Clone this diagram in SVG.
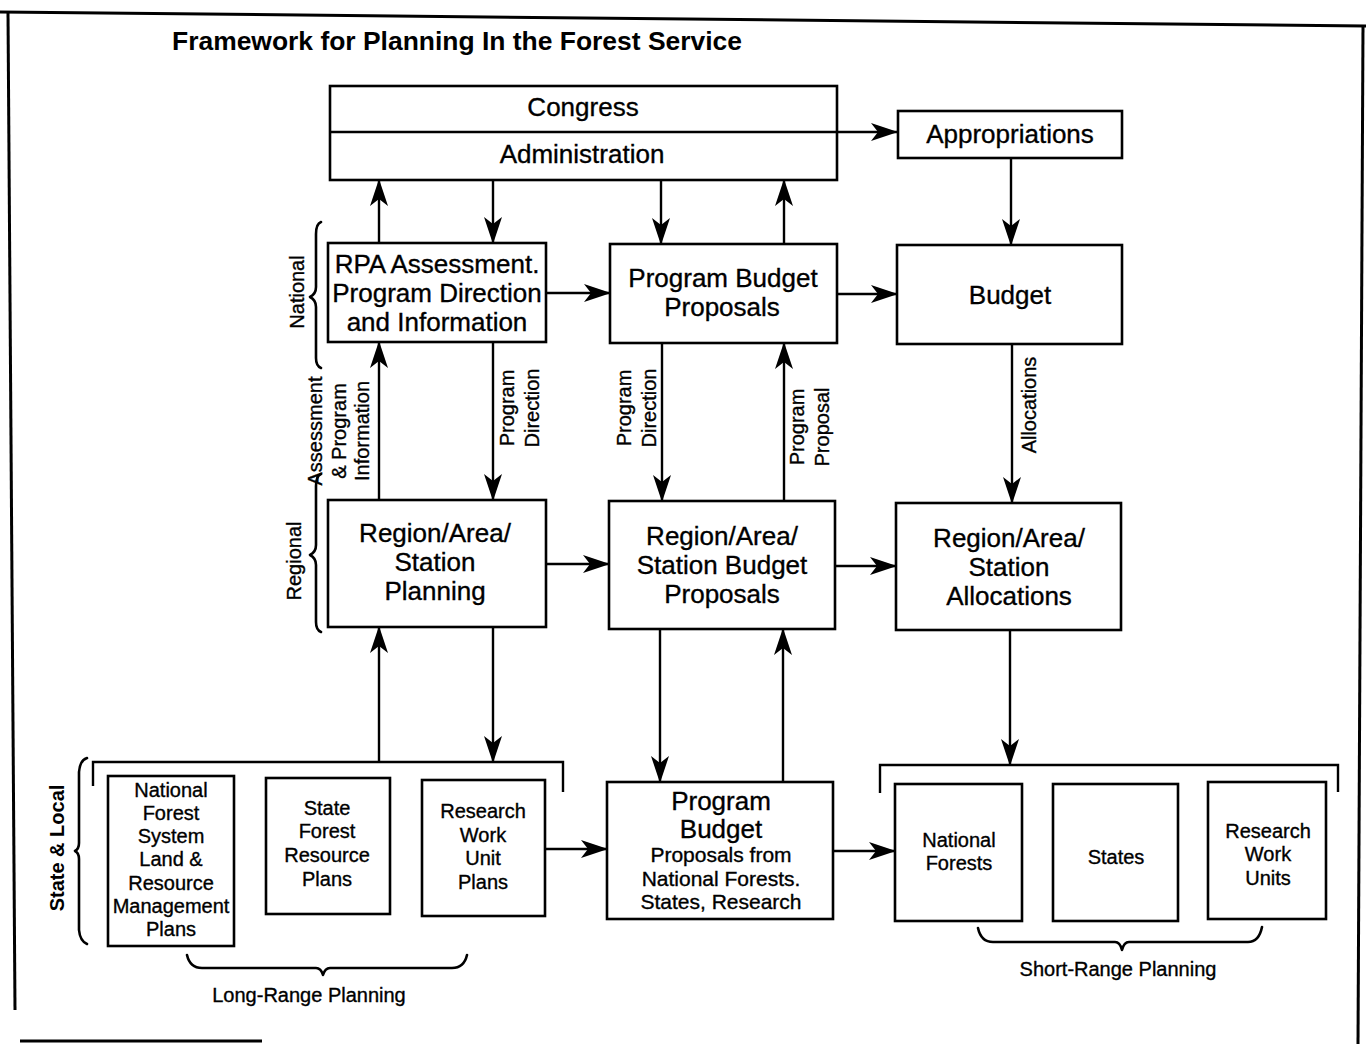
<svg xmlns="http://www.w3.org/2000/svg" width="1366" height="1044" viewBox="0 0 1366 1044">
  <style>
    .frame { fill: none; stroke: #000; stroke-width: 3; }
    .box { fill: #fff; stroke: #000; stroke-width: 2.6; }
    .wire { fill: none; stroke: #000; stroke-width: 2.4; }
    .brace { fill: none; stroke: #000; stroke-width: 2.6; stroke-linejoin: round; stroke-linecap: round; }
    text { font-family: "Liberation Sans", Arial, sans-serif; fill: #000; stroke: #000; stroke-width: 0.35; text-anchor: middle; }
    .lg { font-size: 26px; }
    .md { font-size: 21px; }
    .sm { font-size: 20px; }
    .side { font-size: 20px; }
    .title { font-size: 25px; font-weight: bold; text-anchor: start; stroke-width: 0; }
    .bold { font-weight: bold; stroke-width: 0; }
  </style>
  <defs>
    <marker id="ah" viewBox="0 0 27 18" refX="26" refY="9" markerWidth="27" markerHeight="18" markerUnits="userSpaceOnUse" orient="auto">
      <path d="M0,0 L27,9 L0,18 L7,9 z" fill="#000"/>
    </marker>
  </defs>
  <rect width="1366" height="1044" fill="#fff"/>

  <!-- page frame -->
  <g id="frame">
    <path class="frame" d="M0,12 L1366,26"/>
    <path class="frame" d="M8,13 L15,1010"/>
    <path class="frame" d="M1363,26 L1358,1044"/>
    <path class="frame" d="M20,1041 L262,1041"/>
  </g>

  <text class="title" x="172" y="50" textLength="570" lengthAdjust="spacingAndGlyphs">Framework for Planning In the Forest Service</text>

  <!-- level braces and labels -->
  <g id="levels">
    <path class="brace" d="M321,222 Q316,224 316,234 L316,287 Q316,294 310,297 Q316,300 316,307 L316,358 Q316,366 321,368"/>
    <text class="side" transform="translate(304,292) rotate(-90)">National</text>
    <path class="brace" d="M321,474 Q316,476 316,486 L316,545 Q316,552 310,555 Q316,558 316,565 L316,622 Q316,630 321,632"/>
    <text class="side" transform="translate(301,561) rotate(-90)">Regional</text>
    <text class="side" transform="translate(322,431) rotate(-90)">Assessment</text>
    <text class="side" transform="translate(346,431) rotate(-90)">&amp; Program</text>
    <text class="side" transform="translate(369,431) rotate(-90)">Information</text>
    <path class="brace" d="M87,758 Q80,760 79,772 L79,843 Q79,849 75,851 Q79,853 79,859 L79,930 Q80,941 87,944"/>
    <text class="side bold" transform="translate(64,848) rotate(-90)">State &amp; Local</text>
  </g>

  <!-- nodes -->
  <g id="congress-administration">
    <rect class="box" x="330" y="86" width="507" height="94"/>
    <line class="wire" x1="330" y1="132" x2="837" y2="132"/>
    <text class="lg" x="583" y="116">Congress</text>
    <text class="lg" x="582" y="163">Administration</text>
  </g>
  <g id="appropriations">
    <rect class="box" x="898" y="111" width="224" height="47"/>
    <text class="lg" x="1010" y="143">Appropriations</text>
  </g>
  <g id="rpa-assessment">
    <rect class="box" x="328" y="243" width="218" height="99"/>
    <text class="lg" x="437" y="273">RPA Assessment.</text>
    <text class="lg" x="437" y="302">Program Direction</text>
    <text class="lg" x="437" y="331">and Information</text>
  </g>
  <g id="program-budget-proposals">
    <rect class="box" x="610" y="244" width="227" height="99"/>
    <text class="lg" x="723" y="287">Program Budget</text>
    <text class="lg" x="722" y="316">Proposals</text>
  </g>
  <g id="budget">
    <rect class="box" x="897" y="245" width="225" height="99"/>
    <text class="lg" x="1010" y="304">Budget</text>
  </g>
  <g id="regional-planning">
    <rect class="box" x="328" y="500" width="218" height="127"/>
    <text class="lg" x="435" y="542">Region/Area/</text>
    <text class="lg" x="435" y="571">Station</text>
    <text class="lg" x="435" y="600">Planning</text>
  </g>
  <g id="regional-budget-proposals">
    <rect class="box" x="609" y="501" width="226" height="128"/>
    <text class="lg" x="722" y="545">Region/Area/</text>
    <text class="lg" x="722" y="574">Station Budget</text>
    <text class="lg" x="722" y="603">Proposals</text>
  </g>
  <g id="regional-allocations">
    <rect class="box" x="896" y="503" width="225" height="127"/>
    <text class="lg" x="1009" y="547">Region/Area/</text>
    <text class="lg" x="1009" y="576">Station</text>
    <text class="lg" x="1009" y="605">Allocations</text>
  </g>
  <g id="nfs-plans">
    <rect class="box" x="108" y="776" width="126" height="170"/>
    <text class="sm" x="171" y="797">National</text>
    <text class="sm" x="171" y="820">Forest</text>
    <text class="sm" x="171" y="843">System</text>
    <text class="sm" x="171" y="866">Land &amp;</text>
    <text class="sm" x="171" y="890">Resource</text>
    <text class="sm" x="171" y="913">Management</text>
    <text class="sm" x="171" y="936">Plans</text>
  </g>
  <g id="state-forest-plans">
    <rect class="box" x="266" y="778" width="124" height="136"/>
    <text class="sm" x="327" y="815">State</text>
    <text class="sm" x="327" y="838">Forest</text>
    <text class="sm" x="327" y="862">Resource</text>
    <text class="sm" x="327" y="886">Plans</text>
  </g>
  <g id="research-unit-plans">
    <rect class="box" x="422" y="780" width="123" height="136"/>
    <text class="sm" x="483" y="818">Research</text>
    <text class="sm" x="483" y="842">Work</text>
    <text class="sm" x="483" y="865">Unit</text>
    <text class="sm" x="483" y="889">Plans</text>
  </g>
  <g id="local-program-budget">
    <rect class="box" x="607" y="782" width="226" height="137"/>
    <text class="lg" x="721" y="810">Program</text>
    <text class="lg" x="721" y="838">Budget</text>
    <text class="md" x="721" y="862">Proposals from</text>
    <text class="md" x="721" y="886">National Forests.</text>
    <text class="md" x="721" y="909">States, Research</text>
  </g>
  <g id="national-forests">
    <rect class="box" x="895" y="784" width="127" height="137"/>
    <text class="sm" x="959" y="847">National</text>
    <text class="sm" x="959" y="870">Forests</text>
  </g>
  <g id="states">
    <rect class="box" x="1053" y="784" width="125" height="137"/>
    <text class="sm" x="1116" y="864">States</text>
  </g>
  <g id="research-work-units">
    <rect class="box" x="1208" y="782" width="118" height="137"/>
    <text class="sm" x="1268" y="838">Research</text>
    <text class="sm" x="1268" y="861">Work</text>
    <text class="sm" x="1268" y="885">Units</text>
  </g>

  <!-- connectors -->
  <g id="connectors">
    <path class="wire" d="M837,132 L897,132" marker-end="url(#ah)"/>
    <path class="wire" d="M379,243 L379,180" marker-end="url(#ah)"/>
    <path class="wire" d="M493,180 L493,243" marker-end="url(#ah)"/>
    <path class="wire" d="M661,180 L661,244" marker-end="url(#ah)"/>
    <path class="wire" d="M784,244 L784,180" marker-end="url(#ah)"/>
    <path class="wire" d="M1011,158 L1011,245" marker-end="url(#ah)"/>
    <path class="wire" d="M546,293 L610,293" marker-end="url(#ah)"/>
    <path class="wire" d="M837,294 L897,294" marker-end="url(#ah)"/>
    <path class="wire" d="M379,500 L379,342" marker-end="url(#ah)"/>
    <path class="wire" d="M493,342 L493,500" marker-end="url(#ah)"/>
    <path class="wire" d="M662,343 L662,501" marker-end="url(#ah)"/>
    <path class="wire" d="M784,501 L784,343" marker-end="url(#ah)"/>
    <path class="wire" d="M1012,344 L1012,503" marker-end="url(#ah)"/>
    <path class="wire" d="M546,564 L609,564" marker-end="url(#ah)"/>
    <path class="wire" d="M835,566 L896,566" marker-end="url(#ah)"/>
    <path class="wire" d="M379,762 L379,627" marker-end="url(#ah)"/>
    <path class="wire" d="M493,627 L493,762" marker-end="url(#ah)"/>
    <path class="wire" d="M660,629 L660,782" marker-end="url(#ah)"/>
    <path class="wire" d="M783,782 L783,629" marker-end="url(#ah)"/>
    <path class="wire" d="M1010,630 L1010,765" marker-end="url(#ah)"/>
    <path class="wire" d="M545,849 L607,849" marker-end="url(#ah)"/>
    <path class="wire" d="M833,851 L895,851" marker-end="url(#ah)"/>
    <!-- group brackets above the local plans -->
    <path class="wire" d="M93,786 L93,762 L563,762 L563,792"/>
    <path class="wire" d="M880,793 L880,765 L1338,765 L1338,792"/>
    <!-- connector labels -->
    <text class="side" transform="translate(514,408) rotate(-90)">Program</text>
    <text class="side" transform="translate(539,408) rotate(-90)">Direction</text>
    <text class="side" transform="translate(631,408) rotate(-90)">Program</text>
    <text class="side" transform="translate(656,408) rotate(-90)">Direction</text>
    <text class="side" transform="translate(804,427) rotate(-90)">Program</text>
    <text class="side" transform="translate(829,427) rotate(-90)">Proposal</text>
    <text class="side" transform="translate(1036,405) rotate(-90)">Allocations</text>
  </g>

  <!-- planning horizon braces -->
  <g id="horizons">
    <path class="brace" d="M187,955 Q190,968 202,968 L316,968 Q321,968 323,975 Q325,968 330,968 L452,968 Q464,968 467,955"/>
    <text class="sm" x="309" y="1002">Long-Range Planning</text>
    <path class="brace" d="M978,928 Q981,942 993,942 L1115,942 Q1120,942 1122,950 Q1124,942 1129,942 L1248,942 Q1259,942 1262,927"/>
    <text class="sm" x="1118" y="976">Short-Range Planning</text>
  </g>
</svg>
